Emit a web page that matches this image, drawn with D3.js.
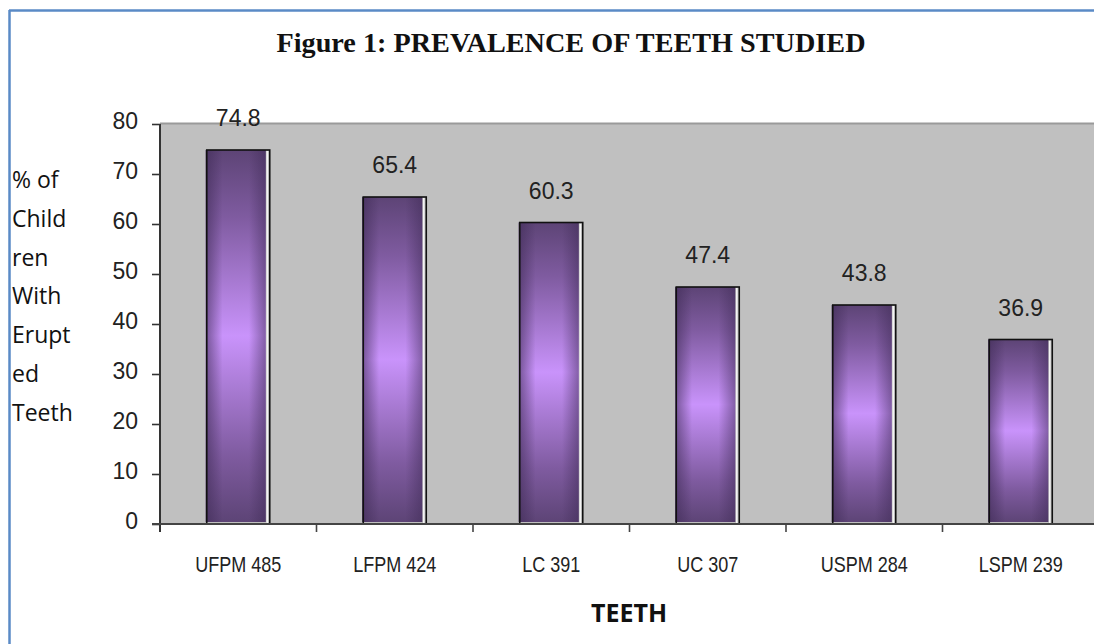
<!DOCTYPE html>
<html>
<head>
<meta charset="utf-8">
<script src="https://cdn.jsdelivr.net/npm/d3@7"></script>
<style>
  html, body { margin: 0; padding: 0; background: #fff; }
  svg { display: block; }
</style>
</head>
<body>
<svg id="chart" width="1094" height="644"></svg>
<script>
// Chart data
const categories = ["UFPM 485", "LFPM 424", "LC 391", "UC 307", "USPM 284", "LSPM 239"];
const values = [74.8, 65.4, 60.3, 47.4, 43.8, 36.9];
const yTicks = [0, 10, 20, 30, 40, 50, 60, 70, 80];
const yTitleLines = ["% of", "Child", "ren", "With", "Erupt", "ed", "Teeth"];
const titleText = "Figure 1: PREVALENCE OF TEETH STUDIED";
const xTitleText = "TEETH";

const svg = d3.select("#chart");
const W = 1094, H = 644;

// Plot frame
const plot = { left: 160, right: 1099, top: 124, bottom: 524 };

const x = d3.scaleBand()
  .domain(categories)
  .range([plot.left, plot.right])
  .paddingInner(0).paddingOuter(0);

const y = d3.scaleLinear()
  .domain([0, 80])
  .range([plot.bottom, plot.top]);

// Gradients for the bars
const defs = svg.append("defs");
const vg = defs.append("linearGradient").attr("id", "barV")
  .attr("x1", 0).attr("y1", 0).attr("x2", 0).attr("y2", 1);
[[0, "#5d4476"], [0.18, "#7f5ba0"], [0.5, "#c993fb"], [0.82, "#7f5ba0"], [1, "#5d4476"]]
  .forEach(([o, c]) => vg.append("stop").attr("offset", o).attr("stop-color", c));
const hg = defs.append("linearGradient").attr("id", "barH")
  .attr("x1", 0).attr("y1", 0).attr("x2", 1).attr("y2", 0);
[[0, "#3e2a55", 0.6], [0.28, "#3e2a55", 0], [0.72, "#3e2a55", 0], [1, "#3e2a55", 0.5]]
  .forEach(([o, c, a]) => hg.append("stop").attr("offset", o).attr("stop-color", c).attr("stop-opacity", a));

// Outer blue frame
svg.append("line").attr("x1", 9).attr("x2", W).attr("y1", 10.5).attr("y2", 10.5)
  .attr("stroke", "#5a8ac6").attr("stroke-width", 2.5);
svg.append("line").attr("x1", 9.5).attr("x2", 9.5).attr("y1", 10).attr("y2", H)
  .attr("stroke", "#5a8ac6").attr("stroke-width", 2.5);

// Title
svg.append("text")
  .attr("x", 571).attr("y", 52)
  .attr("text-anchor", "middle")
  .attr("font-family", "Liberation Serif, DejaVu Serif, serif")
  .attr("font-weight", "bold")
  .attr("font-size", 28)
  .attr("fill", "#111")
  .attr("textLength", 589)
  .attr("lengthAdjust", "spacingAndGlyphs")
  .text(titleText);

// Plot background
svg.append("rect")
  .attr("x", plot.left).attr("y", plot.top)
  .attr("width", plot.right - plot.left).attr("height", plot.bottom - plot.top)
  .attr("fill", "#c0c0c0");
svg.append("line")
  .attr("x1", plot.left).attr("x2", plot.right)
  .attr("y1", plot.top - 0.5).attr("y2", plot.top - 0.5)
  .attr("stroke", "#9a9a9a").attr("stroke-width", 2);

// Bars
const bw = 63;
const bars = svg.append("g").selectAll("g.bar").data(categories).join("g").attr("class", "bar");
bars.each(function (c, i) {
  const g = d3.select(this);
  const cx = x(c) + x.bandwidth() / 2;
  const top = y(values[i]);
  const x0 = cx - bw / 2;
  // fill body
  g.append("rect")
    .attr("x", x0 - 1).attr("y", top)
    .attr("width", bw - 3).attr("height", y(0) - top - 2)
    .attr("fill", "url(#barV)");
  g.append("rect")
    .attr("x", x0 - 1).attr("y", top)
    .attr("width", bw - 3).attr("height", y(0) - top - 2)
    .attr("fill", "url(#barH)");
  // white highlight on the right inner edge
  g.append("line")
    .attr("x1", x0 + bw - 2.5).attr("x2", x0 + bw - 2.5)
    .attr("y1", top + 1).attr("y2", y(0))
    .attr("stroke", "#f4f4f4").attr("stroke-width", 1.5);
  // outline
  g.append("rect")
    .attr("x", x0).attr("y", top)
    .attr("width", bw).attr("height", y(0) - top)
    .attr("fill", "none").attr("stroke", "#111").attr("stroke-width", 1.6);
  // value label
  g.append("text")
    .attr("x", cx).attr("y", top - 24)
    .attr("text-anchor", "middle")
    .attr("font-family", "Liberation Sans, Arial, sans-serif")
    .attr("font-size", 23)
    .attr("fill", "#222")
    .text(values[i]);
});

// Y axis
const yAxis = d3.axisLeft(y).tickValues(yTicks).tickSize(8).tickPadding(14);
const gy = svg.append("g").attr("transform", `translate(${plot.left},0)`).call(yAxis);
gy.select(".domain").remove();
gy.selectAll(".tick line").attr("stroke", "#333").attr("stroke-width", 1.6);
gy.selectAll(".tick text")
  .attr("font-family", "Liberation Sans, Arial, sans-serif")
  .attr("font-size", 23).attr("fill", "#222").attr("dy", "0.2em");
svg.append("line")
  .attr("x1", plot.left).attr("x2", plot.left)
  .attr("y1", plot.top).attr("y2", plot.bottom + 8)
  .attr("stroke", "#333").attr("stroke-width", 2);

// X axis
svg.append("line")
  .attr("x1", plot.left - 8).attr("x2", plot.right)
  .attr("y1", plot.bottom).attr("y2", plot.bottom)
  .attr("stroke", "#444").attr("stroke-width", 2);
const boundaries = categories.slice(1).map(c => x(c));
svg.append("g").selectAll("line").data(boundaries).join("line")
  .attr("x1", d => d).attr("x2", d => d)
  .attr("y1", plot.bottom).attr("y2", plot.bottom + 8)
  .attr("stroke", "#444").attr("stroke-width", 1.6);
svg.append("g").selectAll("text").data(categories).join("text")
  .attr("transform", d => `translate(${x(d) + x.bandwidth() / 2},572) scale(0.82,1)`)
  .attr("text-anchor", "middle")
  .attr("font-family", "Liberation Sans, Arial, sans-serif")
  .attr("font-size", 22)
  .attr("fill", "#222")
  .text(d => d);

// X axis title
svg.append("text")
  .attr("x", 629).attr("y", 622)
  .attr("text-anchor", "middle")
  .attr("font-family", "Open Sans, Lato, sans-serif")
  .attr("font-weight", "bold")
  .attr("font-size", 25)
  .attr("fill", "#111")
  .text(xTitleText);

// Y axis title (wrapped)
svg.append("g").selectAll("text").data(yTitleLines).join("text")
  .attr("x", 12)
  .attr("y", (d, i) => 188 + i * 38.8)
  .attr("font-family", "Open Sans, Lato, sans-serif")
  .attr("font-size", 23)
  .attr("fill", "#111")
  .text(d => d);
</script>
</body>
</html>
